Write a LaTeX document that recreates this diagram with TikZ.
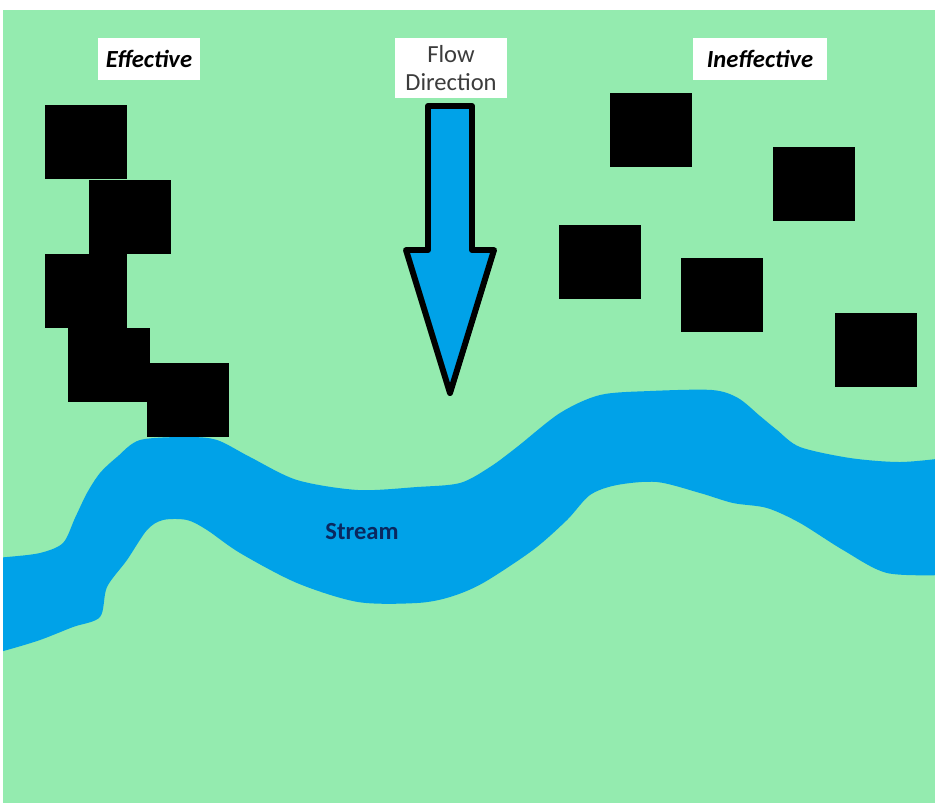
\documentclass[tikz,border=0pt]{standalone}
\usepackage{fontspec}
\setmainfont{Carlito}
\definecolor{grassGreen}{RGB}{148,235,175}
\definecolor{streamBlue}{RGB}{0,162,232}
\definecolor{labelNavy}{RGB}{10,40,95}
\definecolor{labelGray}{RGB}{60,60,60}

\begin{document}
\begin{tikzpicture}[x=0.02cm, y=-0.02cm]

  % page and grass
  \fill[white] (0,0) rectangle (935,805);
  \fill[grassGreen] (3,10) rectangle (935,803);

  % the stream, clipped to the grass
  \begin{scope}
    \clip (3,10) rectangle (935,803);
    \fill[streamBlue] plot[smooth, tension=0.5] coordinates {
        (-10,558) (7,557) (40,553) (63,543) (75,518) (87,493) (100,473)
        (117,457) (140,440) (187,437) (217,440) (250,457) (297,480)
        (358,490) (417,487) (460,483) (490,467) (517,447)
        (560,413) (600,395) (650,391) (712,390) (738,398) (760,416) (777,430)
        (800,447) (850,458) (900,462) (945,458)}
      -- plot[smooth, tension=0.5] coordinates {
        (945,575) (887,573) (843,550) (800,523) (767,508) (733,503)
        (700,493) (657,482) (617,485) (590,495) (567,520) (533,550)
        (483,583) (450,597) (417,603) (358,602) (297,583) (240,553)
        (207,530) (187,520) (163,520) (147,530) (127,560) (107,587)
        (100,617) (73,627) (40,640) (7,650) (-10,654)}
      -- cycle;
  \end{scope}
  \node[text=labelNavy, font=\bfseries\fontsize{14}{16}\selectfont] (stream) at (362,532) {Stream};

  % effective blocks (touching, in a staircase)
  \foreach \x/\y in {45/105, 89/180, 45/254, 68/328, 147/363}
    \fill[black] (\x,\y) rectangle ++(82,74);

  % ineffective blocks (scattered)
  \foreach \x/\y in {610/93, 773/147, 559/225, 681/258, 835/313}
    \fill[black] (\x,\y) rectangle ++(82,74);

  % flow arrow
  \draw[black, line width=3.4pt, line join=round, fill=streamBlue]
    (428,106) -- (472,106) -- (472,250) -- (494,250) -- (450,393)
    -- (406,250) -- (428,250) -- cycle;

  % labels
  \node[fill=white, minimum width=2.04cm, minimum height=0.84cm,
        font=\bfseries\itshape\fontsize{14}{16}\selectfont] (effective) at (149,59) {Effective};
  \node[fill=white, minimum width=2.68cm, minimum height=0.84cm,
        font=\bfseries\itshape\fontsize{14}{16}\selectfont] (ineffective) at (760,59) {Ineffective};
  \node[fill=white, minimum width=2.24cm, minimum height=1.2cm, align=center, inner sep=1pt,
        text=labelGray, font=\fontsize{14}{16}\selectfont] (flow) at (451,68) {Flow\\Direction};

\end{tikzpicture}
\end{document}
